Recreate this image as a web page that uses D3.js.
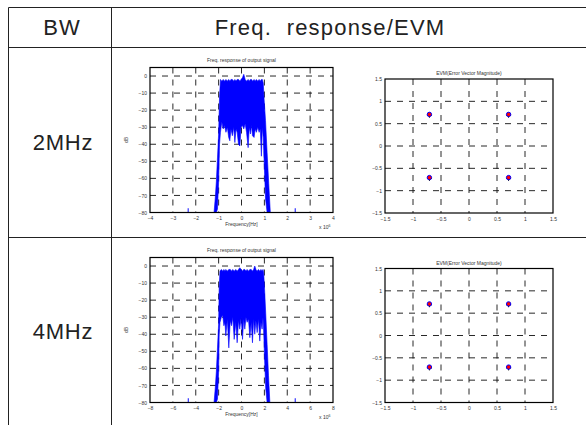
<!DOCTYPE html>
<html>
<head>
<meta charset="utf-8">
<script src="https://cdn.jsdelivr.net/npm/d3@7"></script>
<style>
body { margin: 0; background: #fff; }
svg { display: block; }
text { font-family: "Liberation Sans", Arial, sans-serif; }
</style>
</head>
<body>
<div class="chart"></div>
<script>

// ---- data ----
const rowLabels = ["2MHz", "4MHz"]
const headerLabels = ["BW", "Freq.  response/EVM"]

const specTicks2 = [-4, -3, -2, -1, 0, 1, 2, 3, 4]
const specTicks4 = [-8, -6, -4, -2, 0, 2, 4, 6, 8]
const dbTicks = [0, -10, -20, -30, -40, -50, -60, -70, -80]
const evmTicks = [-1.5, -1, -0.5, 0, 0.5, 1, 1.5]

// 2MHz spectrum, x in units of 10^6 Hz, upper / lower edge of the blue mass in dB
const freq2 = [-1.20, -1.15, -1.10, -1.05, -1.00, -0.96, -0.92, -0.86, -0.80, -0.74,
  -0.68, -0.62, -0.56, -0.51, -0.46, -0.40, -0.34, -0.29, -0.24, -0.19,
  -0.13, -0.07, -0.02, 0.04, 0.10, 0.16, 0.22, 0.29, 0.34, 0.39,
  0.44, 0.48, 0.55, 0.60, 0.65, 0.71, 0.77, 0.82, 0.87, 0.91,
  0.95, 0.99, 1.05, 1.12, 1.19, 1.26]
const upper2 = [-80, -72, -62, -48, -34, -12, -2, -3, -2, -3,
  -2, -3, -2, -3, -2, -2, -3, -2, -3, -2,
  -2, -3, -2, -1, 1, -2, -3, -2, -3, -2,
  -2, -3, -2, -3, -2, -3, -2, -3, -2, -2,
  -4, -14, -26, -45, -63, -80]
const lower2 = [-80, -80, -80, -78, -62, -40, -33, -27, -31, -29,
  -33, -30, -36, -38, -31, -35, -30, -39, -31, -33,
  -40, -41, -30, -29, -31, -28, -33, -42, -30, -34,
  -29, -35, -36, -31, -33, -30, -33, -31, -47, -30,
  -36, -50, -72, -80, -80, -80]
const blips2 = [-2.33, 2.35]

// 4MHz spectrum
const freq4 = [-2.40, -2.30, -2.20, -2.10, -2.00, -1.95, -1.88, -1.76, -1.64, -1.54,
  -1.45, -1.37, -1.24, -1.11, -0.98, -0.87, -0.76, -0.64, -0.50, -0.38,
  -0.26, -0.15, -0.03, 0.09, 0.19, 0.29, 0.39, 0.49, 0.61, 0.73,
  0.85, 0.96, 1.06, 1.16, 1.26, 1.37, 1.48, 1.60, 1.70, 1.80,
  1.88, 1.94, 2.02, 2.12, 2.24, 2.36, 2.48]
const upper4 = [-80, -72, -62, -48, -34, -12, -3, -2, -3, -2,
  -3, -2, -3, -2, -2, -3, -2, -3, -2, -3,
  -2, -1, -2, -3, -2, -2, -3, -2, -3, -2,
  -2, -3, -2, 0, -2, -3, -2, -3, -2, -3,
  -2, -4, -14, -28, -46, -64, -80]
const lower4 = [-80, -80, -80, -78, -62, -40, -33, -30, -29, -35,
  -33, -41, -31, -48, -32, -35, -30, -43, -33, -45,
  -32, -37, -30, -43, -31, -37, -30, -33, -31, -42,
  -33, -45, -31, -40, -32, -39, -31, -44, -33, -37,
  -30, -38, -55, -72, -80, -80, -80]
const blips4 = [-4.65, 4.7]

// received QPSK constellation points
const evmX = [-0.707, 0.707, -0.707, 0.707]
const evmY = [0.707, 0.707, -0.707, -0.707]

// ---- layout ----
const W = 586, H = 425

const svg = d3.select(".chart").append("svg")
    .attr("width", W)
    .attr("height", H)

// table lines
const tbl = svg.append("g").attr("stroke", "#222").attr("stroke-width", 1)
tbl.append("line").attr("x1", 8.5).attr("x2", W).attr("y1", 7.5).attr("y2", 7.5)
tbl.append("line").attr("x1", 8.5).attr("x2", W).attr("y1", 47.5).attr("y2", 47.5)
tbl.append("line").attr("x1", 8.5).attr("x2", W).attr("y1", 237.5).attr("y2", 237.5)
tbl.append("line").attr("x1", 8.5).attr("x2", 8.5).attr("y1", 7.5).attr("y2", H)
tbl.append("line").attr("x1", 111.5).attr("x2", 111.5).attr("y1", 7.5).attr("y2", H)

svg.append("text").attr("x", 62).attr("y", 35).attr("text-anchor", "middle")
    .attr("font-size", 22).attr("letter-spacing", 1).attr("fill", "#222").text(headerLabels[0])
svg.append("text").attr("x", 330).attr("y", 35).attr("text-anchor", "middle")
    .attr("font-size", 22).attr("letter-spacing", 1.2).attr("fill", "#222").attr("xml:space", "preserve")
    .text(headerLabels[1])

const rowMid = [142, 331]
rowLabels.forEach((r, i) => {
  svg.append("text").attr("x", 63).attr("y", rowMid[i] + 8).attr("text-anchor", "middle")
      .attr("font-size", 22).attr("letter-spacing", 0.8).attr("fill", "#222").text(r)
})

function gridAndAxes(g, x, y, xTicks, yTicks, box, fmt) {
  // dashed grid
  g.append("g").selectAll("line").data(xTicks.slice(1, -1)).join("line")
      .attr("x1", d => x(d)).attr("x2", d => x(d))
      .attr("y1", box.top).attr("y2", box.bottom)
      .attr("stroke", "#111").attr("stroke-width", 0.9).attr("stroke-dasharray", "6,6")
  g.append("g").selectAll("line").data(yTicks.filter(d => y(d) > box.top + 1 && y(d) < box.bottom - 1)).join("line")
      .attr("y1", d => y(d)).attr("y2", d => y(d))
      .attr("x1", box.left).attr("x2", box.right)
      .attr("stroke", "#111").attr("stroke-width", 0.9).attr("stroke-dasharray", "6,6")

  const xAxis = d3.axisBottom(x).tickValues(xTicks).tickSize(0).tickPadding(4).tickFormat(fmt)
  const yAxis = d3.axisLeft(y).tickValues(yTicks).tickSize(0).tickPadding(3).tickFormat(fmt)
  const ax = g.append("g").attr("transform", `translate(0,${box.bottom})`).call(xAxis)
  const ay = g.append("g").attr("transform", `translate(${box.left},0)`).call(yAxis)
  ;[ax, ay].forEach(a => {
    a.select(".domain").remove()
    a.selectAll("text").attr("font-size", 5).attr("fill", "#333")
      .attr("font-family", "Liberation Sans, Arial, sans-serif")
  })
}

function box(g, b) {
  g.append("rect").attr("x", b.left).attr("y", b.top)
      .attr("width", b.right - b.left).attr("height", b.bottom - b.top)
      .attr("fill", "none").attr("stroke", "#000").attr("stroke-width", 1.2)
}

function spectrum(b, xTicks, freq, upper, lower, blips) {
  const g = svg.append("g")
  const x = d3.scaleLinear().domain([xTicks[0], xTicks[xTicks.length - 1]]).range([b.left, b.right])
  const y = d3.scaleLinear().domain([-80, 5]).range([b.bottom, b.top])

  gridAndAxes(g, x, y, xTicks, dbTicks, b, d3.format("d"))

  const pts = freq.map((f, i) => ({f: f, hi: upper[i], lo: lower[i]}))
  const area = d3.area().x(d => x(d.f)).y0(d => y(d.lo)).y1(d => y(d.hi))
  g.append("path").datum(pts).attr("d", area)
      .attr("fill", "#0000ff").attr("stroke", "#0000ff").attr("stroke-width", 0.6)

  g.selectAll(".blip").data(blips).join("line").attr("class", "blip")
      .attr("x1", d => x(d)).attr("x2", d => x(d))
      .attr("y1", y(-80)).attr("y2", y(-77.5))
      .attr("stroke", "#3333ff").attr("stroke-width", 1.2)

  box(g, b)

  g.append("text").attr("x", (b.left + b.right) / 2).attr("y", b.top - 6)
      .attr("text-anchor", "middle").attr("font-size", 5).attr("fill", "#333")
      .text("Freq. response of output signal")
  g.append("text").attr("x", (b.left + b.right) / 2).attr("y", b.bottom + 13)
      .attr("text-anchor", "middle").attr("font-size", 5).attr("fill", "#333")
      .text("Frequency[Hz]")
  g.append("text").attr("transform", `translate(${b.left - 22},${(b.top + b.bottom) / 2}) rotate(-90)`)
      .attr("text-anchor", "middle").attr("font-size", 5).attr("fill", "#333").text("dB")
  const xe = g.append("text").attr("x", b.right - 14).attr("y", b.bottom + 16)
      .attr("font-size", 5).attr("fill", "#333")
  xe.append("tspan").text("x 10")
  xe.append("tspan").attr("dy", -2).attr("font-size", 3.5).text("6")
}

function evm(b) {
  const g = svg.append("g")
  const x = d3.scaleLinear().domain([-1.5, 1.5]).range([b.left, b.right])
  const y = d3.scaleLinear().domain([-1.5, 1.5]).range([b.bottom, b.top])

  gridAndAxes(g, x, y, evmTicks, evmTicks, b, d3.format("~g"))

  const pts = evmX.map((v, i) => [v, evmY[i]])
  g.selectAll(".blk").data(pts).join("path").attr("class", "blk")
      .attr("d", d => `M${x(d[0]) - 2.5},${y(d[1]) + 0.8}h5M${x(d[0])},${y(d[1]) - 1.7}v5`)
      .attr("stroke", "#000").attr("stroke-width", 1)
  g.selectAll(".pt").data(pts).join("circle").attr("class", "pt")
      .attr("cx", d => x(d[0])).attr("cy", d => y(d[1])).attr("r", 2.2)
      .attr("fill", "#ff0000").attr("stroke", "#0000ff").attr("stroke-width", 1)

  box(g, b)

  g.append("text").attr("x", (b.left + b.right) / 2).attr("y", b.top - 4)
      .attr("text-anchor", "middle").attr("font-size", 5).attr("fill", "#333")
      .text("EVM(Error Vector Magnitude)")
}

spectrum({left: 150, right: 333, top: 67.5, bottom: 212.5}, specTicks2, freq2, upper2, lower2, blips2)
spectrum({left: 150, right: 333, top: 257.5, bottom: 402.5}, specTicks4, freq4, upper4, lower4, blips4)
evm({left: 385, right: 553, top: 79, bottom: 213})
evm({left: 385, right: 553, top: 268.5, bottom: 402.5})

</script>
</body>
</html>
